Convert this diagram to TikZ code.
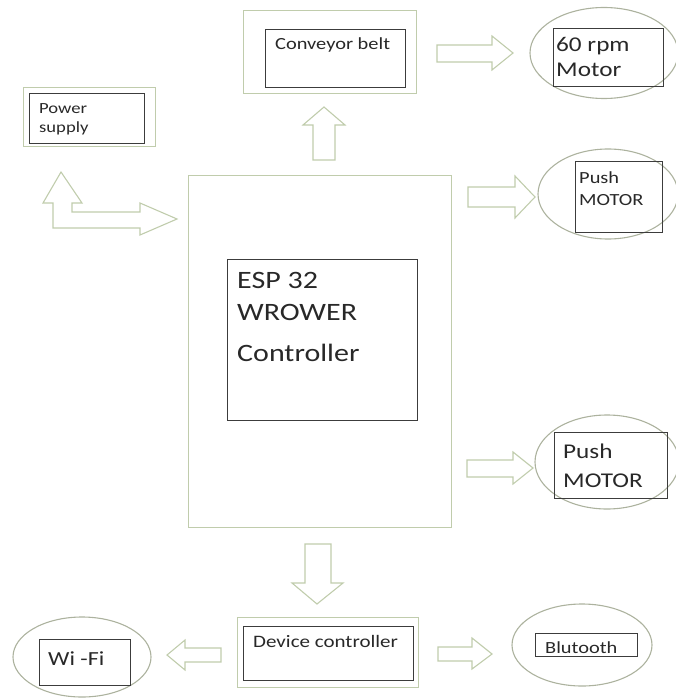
\documentclass[tikz,border=0pt]{standalone}
\usepackage{fontspec}
\setmainfont{Carlito}[FakeStretch=1.2]
\usetikzlibrary{shapes.geometric}
\definecolor{boxgreen}{RGB}{192,204,172}
\definecolor{ringgray}{RGB}{172,178,158}
\definecolor{inkgray}{RGB}{60,60,60}
\definecolor{textgray}{RGB}{40,40,40}

\begin{document}
\begin{tikzpicture}[x=1pt,y=-1pt,
  outbox/.style={draw=boxgreen,line width=1.3pt,inner sep=0pt,anchor=north west},
  inbox/.style={draw=inkgray,line width=1.1pt,inner sep=0pt,anchor=north west},
  ring/.style={draw=ringgray,line width=1.1pt,ellipse,inner sep=0pt},
  blockarrow/.style={draw=boxgreen,line width=1.1pt,line join=miter},
  txt/.style={anchor=base west,inner sep=0pt,text=textgray,align=left}]
\useasboundingbox (0,0) rectangle (676,698);

% controller
\node[outbox,minimum width=263,minimum height=352] (espout) at (188,175) {};
\node[inbox,minimum width=190,minimum height=161] (esp) at (227,259) {};
\node[txt,font=\fontsize{25}{32}\selectfont] (esptext) at (237,361) {ESP 32\\WROWER\\[9pt]Controller};

% power supply
\node[outbox,minimum width=132,minimum height=59] (powout) at (23,87) {};
\node[inbox,minimum width=115,minimum height=50] (pow) at (29,93) {};
\node[txt,font=\fontsize{15.5}{19}\selectfont] (powtext) at (39,132) {Power\\supply};

% conveyor belt
\node[outbox,minimum width=173,minimum height=83] (beltout) at (243,10) {};
\node[inbox,minimum width=140,minimum height=58] (belt) at (265,29) {};
\node[txt,font=\fontsize{17}{20}\selectfont] (belttext) at (275,50) {Conveyor belt};

% motors
\node[ring,minimum width=148,minimum height=91] (rpmring) at (604,53) {};
\node[inbox,minimum width=110,minimum height=58] (rpm) at (553,28) {};
\node[txt,font=\fontsize{21}{25}\selectfont] (rpmtext) at (556,77) {60 rpm\\Motor};

\node[ring,minimum width=140,minimum height=90] (pushAring) at (608,194) {};
\node[inbox,minimum width=87,minimum height=71] (pushA) at (575,161) {};
\node[txt,font=\fontsize{17}{22}\selectfont] (pushAtext) at (579,205) {Push\\MOTOR};

\node[ring,minimum width=144,minimum height=94] (pushBring) at (607,462) {};
\node[inbox,minimum width=113,minimum height=66] (pushB) at (554,432) {};
\node[txt,font=\fontsize{21}{29}\selectfont] (pushBtext) at (563,487) {Push\\MOTOR};

% device controller
\node[outbox,minimum width=181,minimum height=70] (devout) at (237,617) {};
\node[inbox,minimum width=170,minimum height=54] (dev) at (243,626) {};
\node[txt,font=\fontsize{17.5}{20}\selectfont] (devtext) at (253,647) {Device controller};

\node[ring,minimum width=138,minimum height=80] (wifiring) at (82,657) {};
\node[inbox,minimum width=91,minimum height=46] (wifi) at (39,639) {};
\node[txt,font=\fontsize{20}{24}\selectfont] (wifitext) at (48,665) {Wi -Fi};

\node[ring,minimum width=140,minimum height=82] (btring) at (582,645) {};
\node[inbox,minimum width=102,minimum height=23] (bt) at (535,633) {};
\node[txt,font=\fontsize{17}{20}\selectfont] (bttext) at (545,653) {Blutooth};

% block arrows
\draw[blockarrow] (53,228) -- (53,203) -- (43,203) -- (61,172) -- (82,203) -- (72,203)
  -- (72,212) -- (140,212) -- (140,203) -- (177,219) -- (140,235) -- (140,228) -- cycle;
\draw[blockarrow] (313,160) -- (313,125) -- (303,125) -- (324,107) -- (345,125) -- (335,125) -- (335,160) -- cycle;
\draw[blockarrow] (437,45) -- (492,45) -- (492,36) -- (513,53) -- (492,70) -- (492,62) -- (437,62) -- cycle;
\draw[blockarrow] (468,187) -- (515,187) -- (515,176) -- (535,197) -- (515,218) -- (515,207) -- (468,207) -- cycle;
\draw[blockarrow] (467,460) -- (513,460) -- (513,452) -- (533,468) -- (513,484) -- (513,477) -- (467,477) -- cycle;
\draw[blockarrow] (305,544) -- (331,544) -- (331,583) -- (343,583) -- (317,604) -- (292,583) -- (305,583) -- cycle;
\draw[blockarrow] (221,648) -- (185,648) -- (185,640) -- (167,655) -- (185,670) -- (185,662) -- (221,662) -- cycle;
\draw[blockarrow] (438,647) -- (472,647) -- (472,638) -- (492,654) -- (472,669) -- (472,661) -- (438,661) -- cycle;
\end{tikzpicture}
\end{document}
